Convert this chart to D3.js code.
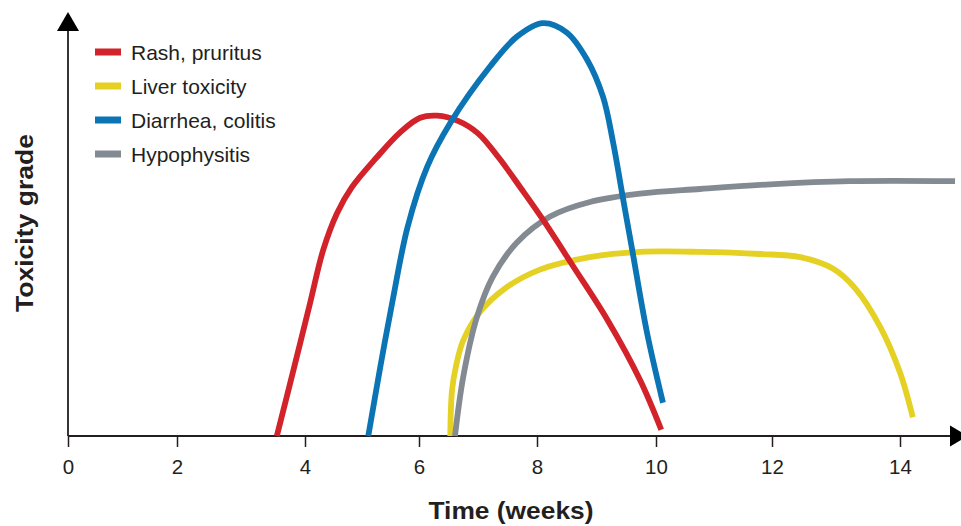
<!DOCTYPE html>
<html><head><meta charset="utf-8">
<script src="https://cdn.jsdelivr.net/npm/d3@7"></script>
<style>html,body{margin:0;padding:0;background:#fff;overflow:hidden}</style>
</head><body>
<svg id="c" width="961" height="526"></svg>
<script>
// ---- data ----
const xTicks = [0, 2, 4, 6, 8, 10, 12, 14];
const seriesNames = ["Rash, pruritus", "Liver toxicity", "Diarrhea, colitis", "Hypophysitis"];
const seriesColors = ["#d2232a", "#e5d123", "#0b74b4", "#838a91"];
const xLabel = "Time (weeks)";
const yLabel = "Toxicity grade";

// [weeks, grade]
const rash = [[3.56,0],[3.81,0.61],[4.09,1.28],[4.32,1.79],[4.56,2.14],[4.82,2.39],[5.26,2.68],[5.67,2.92],[6.02,3.06],[6.31,3.08],[6.66,3.03],[7.0,2.91],[7.36,2.67],[7.73,2.38],[8.1,2.08],[8.61,1.63],[9.18,1.12],[9.73,0.54],[10.09,0.06]];
const liver = [[6.53,0],[6.56,0.44],[6.63,0.68],[6.75,0.92],[7.03,1.19],[7.46,1.42],[8.05,1.6],[8.89,1.72],[9.73,1.77],[10.76,1.77],[11.79,1.75],[12.44,1.72],[12.95,1.61],[13.3,1.42],[13.69,1.05],[14.0,0.61],[14.2,0.18]];
const diarrhea = [[5.11,0],[5.32,0.66],[5.54,1.31],[5.8,2.01],[6.14,2.59],[6.53,3.01],[7.2,3.55],[7.66,3.84],[8.1,3.97],[8.5,3.88],[8.84,3.62],[9.11,3.26],[9.28,2.82],[9.45,2.27],[9.6,1.79],[9.85,0.99],[10.12,0.32]];
const hypophysitis = [[6.61,0],[6.75,0.57],[6.98,1.14],[7.25,1.53],[7.66,1.86],[8.22,2.11],[8.89,2.25],[9.73,2.33],[10.76,2.375],[11.97,2.42],[13.22,2.45],[14.86,2.45]];

// ---- chart ----
const svg = d3.select("#c");
const FONT = "'Liberation Sans', Arial, Helvetica, sans-serif";
const ink = "#231f20";

const x = d3.scaleLinear().domain(xTicks).range([68, 177, 305, 419, 537, 656, 772, 900]);
const y = d3.scaleLinear().domain([0, 4]).range([436, 20]);

const line = d3.line().x(d => x(d[0])).y(d => y(d[1])).curve(d3.curveCatmullRom.alpha(0.5));

// axes
const axisG = svg.append("g").attr("transform", `translate(0,${y(0)})`)
  .call(d3.axisBottom(x).tickValues(xTicks).tickSize(11).tickSizeOuter(0).tickPadding(12));
axisG.select(".domain").remove();
axisG.selectAll(".tick line").attr("stroke", ink).attr("stroke-width", 1.5);
axisG.selectAll(".tick text").attr("fill", ink).style("font-family", FONT).style("font-size", "20.5px");

svg.append("line").attr("x1", x(0)).attr("x2", 950).attr("y1", y(0)).attr("y2", y(0))
  .attr("stroke", ink).attr("stroke-width", 1.8);
svg.append("path").attr("d", `M950,${y(0)-10.5}L968,${y(0)}L950,${y(0)+10.5}Z`).attr("fill", "#000");
svg.append("line").attr("x1", x(0)).attr("x2", x(0)).attr("y1", y(0)).attr("y2", 30)
  .attr("stroke", ink).attr("stroke-width", 1.8);
svg.append("path").attr("d", `M${x(0)-11},31L${x(0)},12L${x(0)+11},31Z`).attr("fill", "#000");

// lines (draw order matches overlaps)
const drawOrder = [[liver,1],[hypophysitis,3],[rash,0],[diarrhea,2]];
drawOrder.forEach(([data, i]) => {
  svg.append("path").datum(data).attr("d", line)
    .attr("fill", "none").attr("stroke", seriesColors[i])
    .attr("stroke-width", 5.8).attr("stroke-linecap", "butt").attr("stroke-linejoin", "round");
});

// legend
const ly = d3.scalePoint().domain(seriesNames).range([52, 154]);
const lg = svg.append("g");
seriesNames.forEach((n, i) => {
  lg.append("rect").attr("x", 95).attr("y", ly(n) - 3.5).attr("width", 26).attr("height", 7).attr("fill", seriesColors[i]);
  lg.append("text").attr("x", 131).attr("y", ly(n) + 8).text(n)
    .attr("fill", ink).style("font-family", FONT).style("font-size", "21px");
});

// axis titles
svg.append("text").attr("x", 511).attr("y", 519).attr("text-anchor", "middle").text(xLabel)
  .attr("fill", ink).style("font-family", FONT).style("font-size", "24px").style("font-weight", "bold")
  .attr("textLength", 165).attr("lengthAdjust", "spacingAndGlyphs");
svg.append("text").attr("transform", "translate(33,223) rotate(-90)").attr("text-anchor", "middle").text(yLabel)
  .attr("fill", ink).style("font-family", FONT).style("font-size", "24px").style("font-weight", "bold")
  .attr("textLength", 178).attr("lengthAdjust", "spacingAndGlyphs");
</script>
</body></html>
